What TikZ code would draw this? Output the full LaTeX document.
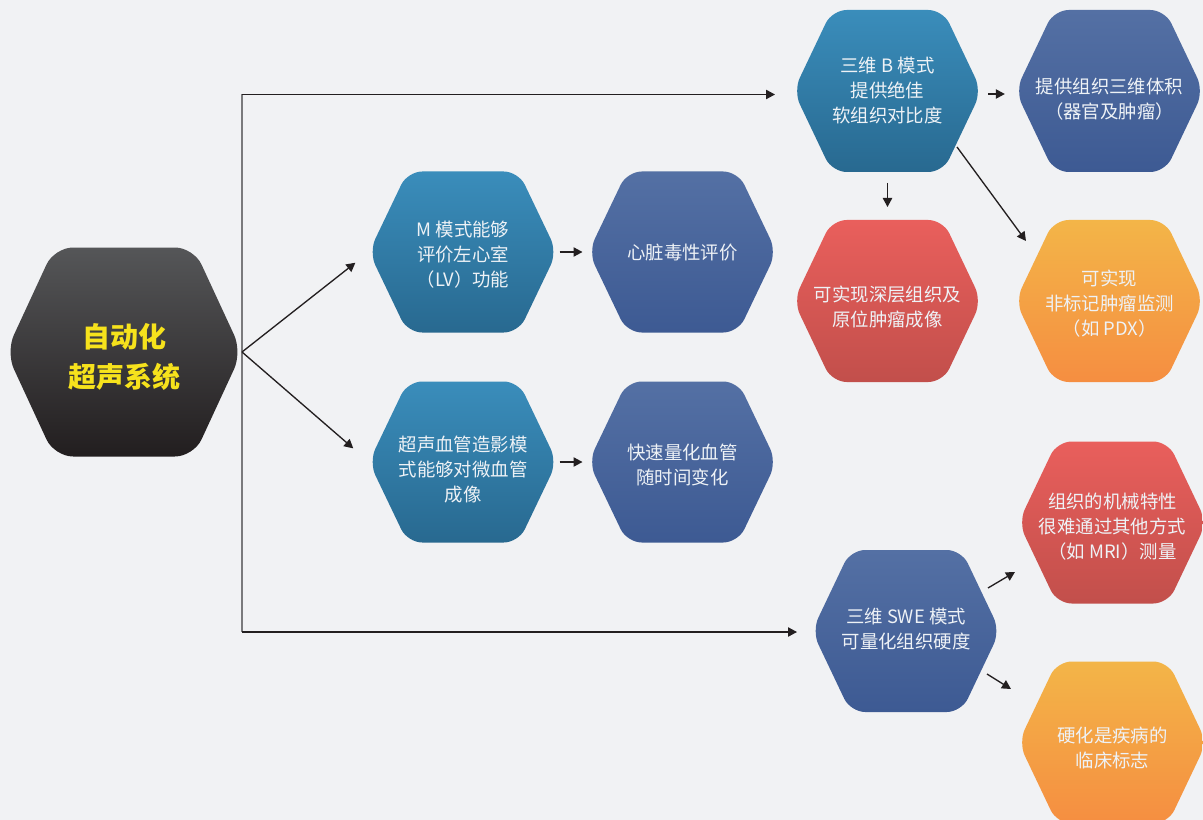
\documentclass[tikz,border=0pt]{standalone}
\usepackage{fontspec}
\newfontfamily\cjk{Noto Sans CJK SC}
\usetikzlibrary{arrows.meta,calc}
\definecolor{bg}{HTML}{F1F2F4}
\definecolor{maintop}{HTML}{555658}
\definecolor{mainbot}{HTML}{221E1F}
\definecolor{mainyel}{HTML}{F6E21C}
\definecolor{tealtop}{HTML}{3A8DBB}
\definecolor{tealmid}{HTML}{1D78A6}
\definecolor{tealbot}{HTML}{286990}
\definecolor{indtop}{HTML}{5470A4}
\definecolor{indbot}{HTML}{3D5A93}
\definecolor{redtop}{HTML}{E95F5C}
\definecolor{redbot}{HTML}{C24F4B}
\definecolor{orgtop}{HTML}{F3B548}
\definecolor{orgbot}{HTML}{F58E41}
\definecolor{txtc}{HTML}{EEF2F6}
\definecolor{linec}{HTML}{231F20}
\definecolor{vlinec}{HTML}{7A7A7C}
\tikzset{
  hexmain/.style={rounded corners=14pt, top color=maintop, bottom color=mainbot},
  hexteal/.style={rounded corners=11pt, top color=tealtop, middle color=tealmid, bottom color=tealbot},
  hexind/.style={rounded corners=11pt, top color=indtop, bottom color=indbot},
  hexred/.style={rounded corners=11pt, top color=redtop, bottom color=redbot},
  hexorg/.style={rounded corners=11pt, top color=orgtop, bottom color=orgbot},
  txt/.style={align=center, text=txtc, inner sep=0pt, font=\fontsize{13.8}{18.75}\selectfont\cjk},
  maintxt/.style={align=center, text=mainyel, inner sep=0pt, font=\fontsize{21}{30}\selectfont\cjk\bfseries},
  conn/.style={line width=1pt, draw=linec, -{Triangle[length=6.75pt,width=7pt]}},
  vline/.style={line width=1.4pt, draw=vlinec}
}
% name, cx, cy, W (half width), H (half height), style, text dy, text-style, text
\newcommand\hexa[9]{%
  \pgfmathsetmacro\hxa{0.59*#4}%
  \shade[#6] ({#2-#4},#3) -- ({#2-\hxa},{#3-#5}) -- ({#2+\hxa},{#3-#5}) -- ({#2+#4},#3) -- ({#2+\hxa},{#3+#5}) -- ({#2-\hxa},{#3+#5}) -- cycle;
  \node[#8] (#1) at (#2,{#3+#7}) {#9};
  \coordinate (#1-w) at ({#2-#4},#3);
  \coordinate (#1-e) at ({#2+#4},#3);
  \coordinate (#1-n) at (#2,{#3-#5});
  \coordinate (#1-s) at (#2,{#3+#5});
}
\begin{document}
\begin{tikzpicture}[x=0.75pt,y=-0.75pt]
\fill[bg] (0,0) rectangle (1203,820);
\useasboundingbox (0,0) rectangle (1203,820);
\clip (0,0) rectangle (1203,820);

\hexa{main}{124}{352}{118}{104.5}{hexmain}{5}{maintxt}{自动化\\超声系统}
\hexa{mm}{463}{252}{94}{80.5}{hexteal}{3}{txt}{M 模式能够\\评价左心室\\（LV）功能}
\hexa{heart}{682.5}{252}{94}{80.5}{hexind}{1}{txt}{心脏毒性评价}
\hexa{ceus}{463}{462}{94}{80.5}{hexteal}{8}{txt}{超声血管造影模\\式能够对微血管\\成像}
\hexa{quant}{682.5}{462}{94}{80.5}{hexind}{3}{txt}{快速量化血管\\随时间变化}
\hexa{bmode}{887.5}{91}{94}{81}{hexteal}{0}{txt}{三维 B 模式\\提供绝佳\\软组织对比度}
\hexa{vol}{1109.5}{91}{94}{81}{hexind}{8}{txt}{提供组织三维体积\\（器官及肿瘤）}
\hexa{deep}{887.5}{301}{94}{81}{hexred}{6}{txt}{可实现深层组织及\\原位肿瘤成像}
\hexa{pdx}{1109.5}{301}{94}{81}{hexorg}{3}{txt}{可实现\\非标记肿瘤监测\\（如 PDX）}
\hexa{swe}{906}{631}{94}{81}{hexind}{-2}{txt}{三维 SWE 模式\\可量化组织硬度}
\hexa{mri}{1112.5}{522.5}{94}{81}{hexred}{4}{txt}{组织的机械特性\\很难通过其他方式\\（如 MRI）测量}
\hexa{clin}{1112.5}{742.5}{94}{81}{hexorg}{5}{txt}{硬化是疾病的\\临床标志}

% entry points of the connectors that do not end on a hexagon point
\coordinate (bin) at (797,94.5);
\coordinate (sin) at (815,632);
\coordinate (bp1) at (957,147);
\coordinate (bp2) at (1026,241);
\coordinate (sm1) at (988,588);
\coordinate (sm2) at (1015,572);
\coordinate (sc1) at (987,674);
\coordinate (sc2) at (1011,689);

% connectors
\draw[vline] (main-e |- bin) -- (main-e |- sin);
\draw[conn, shorten >=16.5pt] (main-e |- bin) -- (bin);
\draw[conn, shorten >=13.5pt] (main-e |- sin) -- (sin);
\draw[conn, shorten >=13pt] (main-e) -- (mm-w);
\draw[conn, shorten >=15.6pt] (main-e) -- (ceus-w);
\draw[conn, shorten <=2pt, shorten >=4.5pt] (mm-e) -- (heart-w);
\draw[conn, shorten <=2pt, shorten >=4.5pt] (ceus-e) -- (quant-w);
\draw[conn, shorten <=5pt, shorten >=8pt] ($(bmode-e)+(0,3)$) -- ($(vol-w)+(0,3)$);
\draw[conn, shorten <=8.25pt, shorten >=9.75pt] (bmode-s) -- (deep-n);
\draw[conn] (bp1) -- (bp2);
\draw[conn] (sm1) -- (sm2);
\draw[conn] (sc1) -- (sc2);
\end{tikzpicture}
\end{document}
